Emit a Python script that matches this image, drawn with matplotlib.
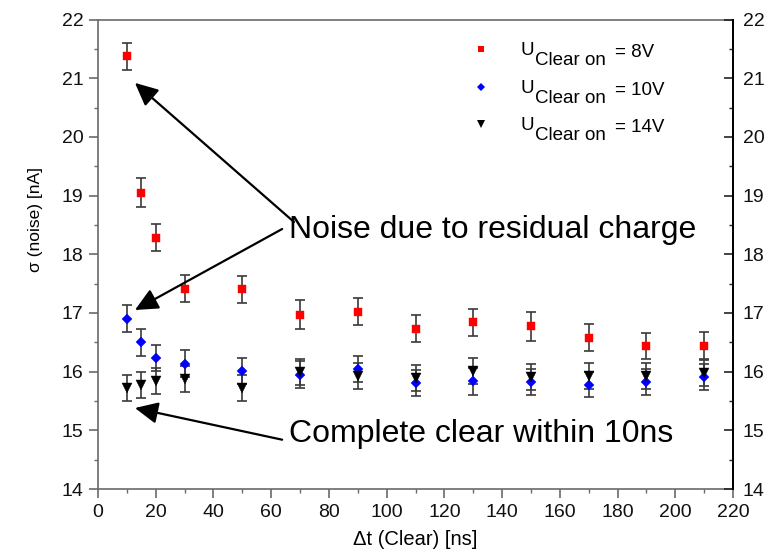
import matplotlib
matplotlib.use("Agg")
import matplotlib.pyplot as plt
from matplotlib.ticker import MultipleLocator

plt.rcParams['font.family'] = ['Liberation Sans', 'DejaVu Sans']

# Data
dt = [10, 15, 20, 30, 50, 70, 90, 110, 130, 150, 170, 190, 210]
noise_8v = [21.37, 19.05, 18.28, 17.41, 17.40, 16.97, 17.02, 16.73, 16.84, 16.77, 16.58, 16.44, 16.44]
err_8v = [0.23, 0.25, 0.23, 0.23, 0.23, 0.25, 0.23, 0.23, 0.23, 0.24, 0.23, 0.22, 0.23]
noise_10v = [16.90, 16.50, 16.23, 16.13, 16.01, 15.95, 16.04, 15.80, 15.84, 15.82, 15.78, 15.82, 15.91]
err_10v = [0.23, 0.23, 0.22, 0.23, 0.22, 0.23, 0.22, 0.22, 0.23, 0.22, 0.22, 0.22, 0.22]
noise_14v = [15.72, 15.77, 15.84, 15.87, 15.72, 15.99, 15.92, 15.89, 16.01, 15.91, 15.92, 15.92, 15.98]
err_14v = [0.22, 0.22, 0.22, 0.22, 0.22, 0.22, 0.22, 0.22, 0.22, 0.22, 0.22, 0.22, 0.22]
legend_labels = ['8V', '10V', '14V']

W, H = 780, 551
fig = plt.figure(figsize=(7.8, 5.51), dpi=100)
L, R, T, B = 98, 733, 19.5, 489
ax = fig.add_axes([L / W, 1 - B / H, (R - L) / W, (B - T) / H])

ecol = '#3a3a3a'
series = [(noise_8v, err_8v, 's', '#ff0000', 6),
          (noise_10v, err_10v, 'D', '#0000ff', 4.6),
          (noise_14v, err_14v, 'v', '#000000', 6.8)]
for vals, errs, m, c, s in series:
    ax.errorbar(dt, vals, yerr=errs, fmt='none', ecolor=ecol, elinewidth=1.2,
                capsize=3.8, capthick=1.2, zorder=2)
    ax.plot(dt, vals, linestyle='none', marker=m, color=c, ms=s, mec=c, mew=0.3, zorder=3)

ax.set_xlim(0, 220)
ax.set_ylim(14, 22)
ax.xaxis.set_major_locator(MultipleLocator(20))
ax.xaxis.set_minor_locator(MultipleLocator(10))
ax.yaxis.set_major_locator(MultipleLocator(1))
ax.yaxis.set_minor_locator(MultipleLocator(0.5))

gray = '#6a6a6a'
for s in ['left', 'bottom', 'top']:
    ax.spines[s].set_color(gray)
    ax.spines[s].set_linewidth(1.2)
ax.spines['right'].set_color('black')
ax.spines['right'].set_linewidth(1.4)

ax.tick_params(axis='both', which='major', direction='out', length=6.5, width=1.2,
               color=gray, labelsize=14, pad=4, labelcolor='#111111')
ax.tick_params(axis='both', which='minor', direction='out', length=3, width=1.0, color=gray)
ax.tick_params(top=False, right=False)

ax2 = ax.twinx()
ax2.set_ylim(14, 22)
ax2.yaxis.set_major_locator(MultipleLocator(1))
ax2.yaxis.set_minor_locator(MultipleLocator(0.5))
ax2.tick_params(axis='y', which='major', direction='in', length=6.5, width=1.2,
                color='#222222', labelsize=14, pad=7, labelcolor='#111111')
ax2.tick_params(axis='y', which='minor', direction='in', length=3, width=1.0, color='#222222')
for s in ['left', 'bottom', 'top']:
    ax2.spines[s].set_visible(False)
ax2.spines['right'].set_color('black')
ax2.spines['right'].set_linewidth(1.4)

ax.set_xlabel('\u0394t (Clear) [ns]', fontsize=14.5, labelpad=7)
ax.set_ylabel('\u03c3 (noise) [nA]', fontsize=12.5)
ax.yaxis.set_label_coords(-0.087, 0.573)

# Annotations
aprops = dict(arrowstyle='-|>,head_length=0.7,head_width=0.33', mutation_scale=20,
              lw=1.6, color='black', shrinkA=0, shrinkB=0)
ax.annotate('', xy=(12.8, 20.92), xytext=(67.9, 18.55), arrowprops=aprops, zorder=4)
ax.annotate('', xy=(12.8, 17.05), xytext=(63.8, 18.43), arrowprops=aprops, zorder=4)
ax.annotate('', xy=(12.8, 15.38), xytext=(63.8, 14.84), arrowprops=aprops, zorder=4)
ax.text(66.2, 18.28, 'Noise due to residual charge', fontsize=23, ha='left', va='baseline', zorder=5)
ax.text(66.2, 14.80, 'Complete clear within 10ns', fontsize=23, ha='left', va='baseline', zorder=5)

# Manual legend
def axc(px, py):
    return (px - L) / (R - L), (B - py) / (B - T)

mk = [('s', '#ff0000', 5), ('D', '#0000ff', 4.2), ('v', '#000000', 6)]
rows = [55, 93, 130]
for (m, c, s), lab, yb in zip(mk, legend_labels, rows):
    mx, my = axc(481, yb - 6)
    ax.plot([mx], [my], marker=m, color=c, ms=s, mew=0, transform=ax.transAxes, clip_on=False)
    x, y = axc(520, yb)
    ax.text(x, y, 'U', fontsize=13.5, transform=ax.transAxes, va='baseline', ha='left')
    x, y = axc(535, yb + 10)
    ax.text(x, y, 'Clear on', fontsize=13.5, transform=ax.transAxes, va='baseline', ha='left')
    x, y = axc(615, yb + 2)
    ax.text(x, y, '= ' + lab, fontsize=13.5, transform=ax.transAxes, va='baseline', ha='left')

fig.savefig('out.png', dpi=100)
